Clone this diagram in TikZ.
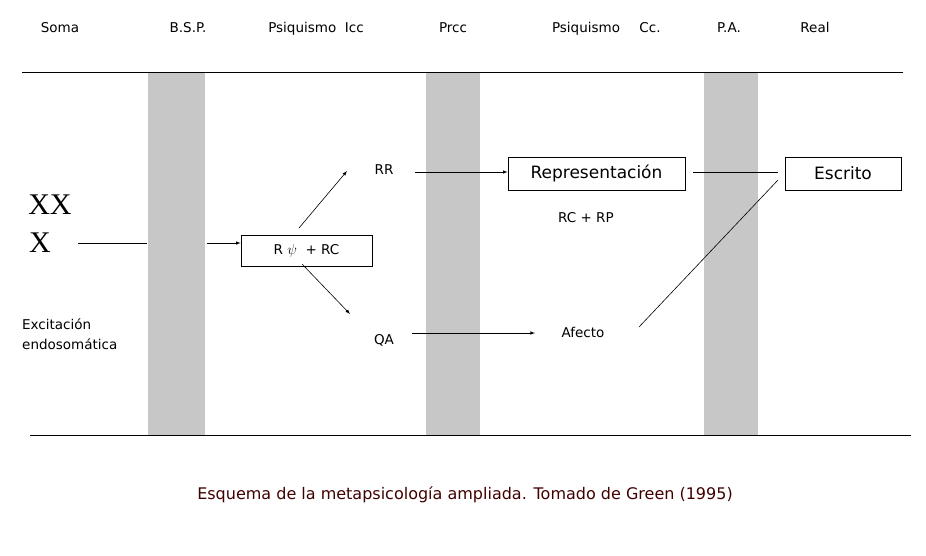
\documentclass[tikz,border=0pt]{standalone}
\usepackage{fontspec}
\setmainfont{DejaVu Sans}
\newfontfamily\serifx{Liberation Serif}
\begin{document}
\begin{tikzpicture}[x=1pt,y=-1pt,
  lbl/.style={font=\fontsize{13.5}{16}\selectfont,inner sep=0pt},
  bx/.style={draw,line width=0.8pt,minimum height=33pt,inner sep=0pt},
  arr/.style={-latex,line width=0.6pt},
  band/.style={fill=black!22,draw=none}]
\useasboundingbox (0,0) rectangle (926,555);
\fill[band] (148,73) rectangle (205,435);
\fill[band] (426,73) rectangle (480,435);
\fill[band] (704,73) rectangle (758,435);
\draw[line width=0.6pt] (22,72) -- (903,72);
\draw[line width=0.6pt] (30,435) -- (911,435);
\foreach \x/\t in {60/Soma,188/B.S.P.,316/Psiquismo\ \ Icc,453/Prcc,586/Psiquismo,650/Cc.,729/P.A.,815/Real}
  \node[lbl,anchor=base] at (\x,32) {\t};
\node (xx) [font=\serifx\fontsize{30}{30}\selectfont,inner sep=0pt] at (50,205) {XX};
\node (x) [font=\serifx\fontsize{30}{30}\selectfont,inner sep=0pt] at (40,243) {X};
\node (exc) [lbl,align=left,anchor=west] at (22,334) {Excitación\\[4pt]endosomática};
\coordinate (a0) at (78,243); \coordinate (a1) at (147,243);
\coordinate (b0) at (207,243);
\draw[line width=0.6pt] (a0) -- (a1);
\node (r) [bx,minimum width=131pt,minimum height=31pt,lbl] at (306.5,250.5) {R $\psi$\ \ + RC};
\draw[arr] (b0) -- (b0 -| r.west);
\node (rr) [lbl] at (384,170) {RR};
\node (qa) [lbl] at (384,340) {QA};
\coordinate (r1) at (299,228); \coordinate (r2) at (347,171);
\coordinate (q1) at (302,264); \coordinate (q2) at (350,314);
\draw[arr] (r1) -- (r2);
\draw[arr] (q1) -- (q2);
\node (rep) [bx,minimum width=177pt,font=\fontsize{17}{20}\selectfont] at (596.5,173.5) {Representación};
\node (esc) [bx,minimum width=116pt,font=\fontsize{17}{20}\selectfont] at (843,173.5) {Escrito};
\coordinate (rr1) at (415,172);
\draw[arr] (rr1) -- (rr1 -| rep.west);
\coordinate (l1) at (693,172); \coordinate (l2) at (778,172);
\draw[line width=0.6pt] (l1) -- (l2);
\node (rcrp) [lbl] at (586,218) {RC + RP};
\node (af) [lbl] at (583,332) {Afecto};
\coordinate (qa1) at (412,333);
\draw[arr] (qa1) -- (535,333);
\coordinate (e1) at (639,327); \coordinate (e2) at (778,180);
\draw[line width=0.6pt] (e1) -- (e2);
\node (cap) [inner sep=0pt,font=\fontsize{16}{18}\selectfont,text=red!25!black] at (465,495) {Esquema de la metapsicología ampliada. Tomado de Green (1995)};
\end{tikzpicture}
\end{document}
